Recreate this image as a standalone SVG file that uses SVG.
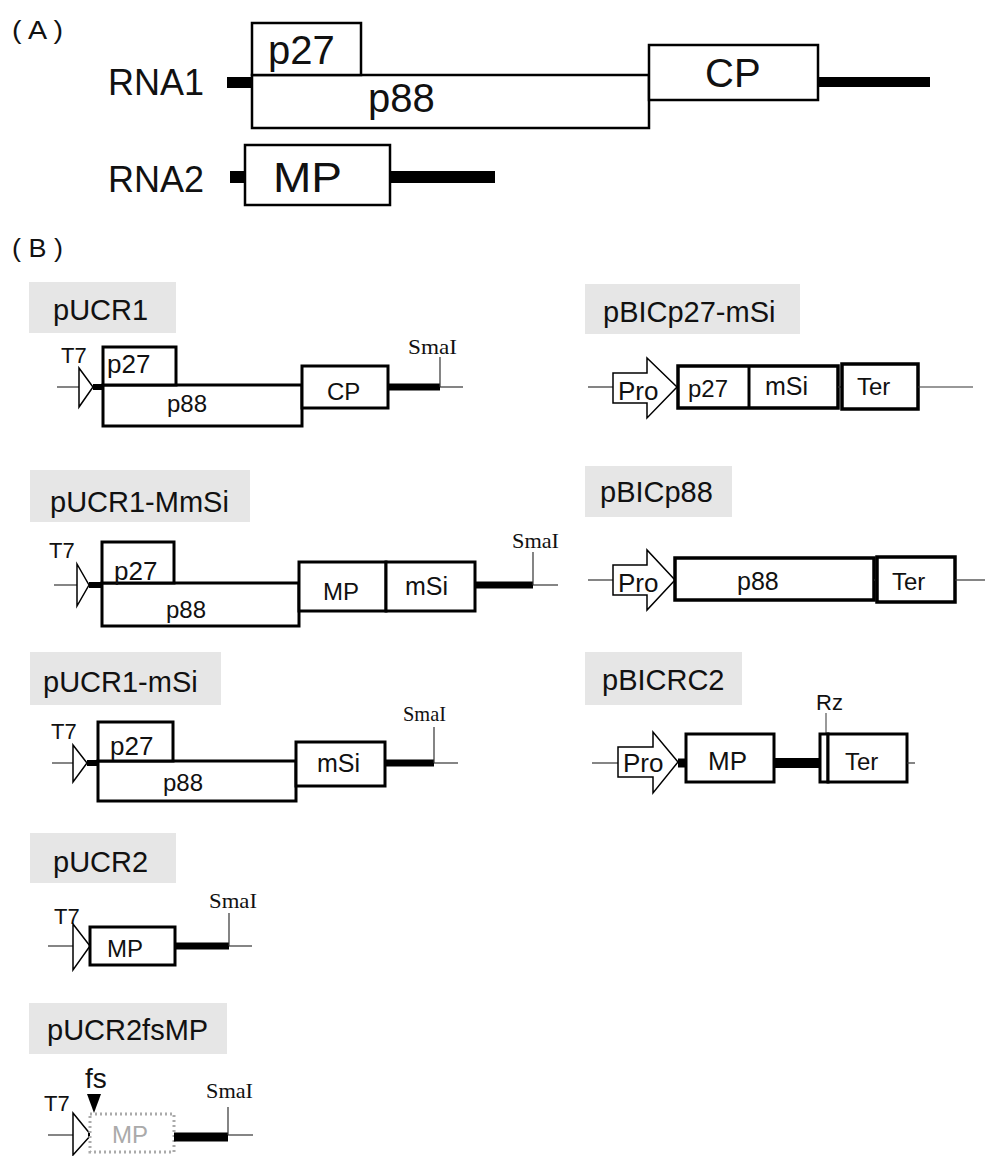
<svg xmlns="http://www.w3.org/2000/svg" width="985" height="1156" viewBox="0 0 985 1156">
<style>
.t{font-family:"Liberation Sans",Arial,sans-serif;fill:#111}
.s{font-family:"Liberation Serif","Times New Roman",serif;fill:#111;font-size:21px}
.bA{fill:#fff;stroke:#000;stroke-width:2.5}
.b{fill:#fff;stroke:#000;stroke-width:3}
.bP{fill:#fff;stroke:#000;stroke-width:3.5}
.thin{stroke:#333;stroke-width:1.2;fill:none}
.thk{stroke:#000;stroke-width:7;fill:none}
.lbl{fill:#e6e6e6}
.tri{fill:#fff;stroke:#000;stroke-width:1.5}
.name{font-size:29px}
.gl{font-size:24px}
.t7{font-size:22px}
</style>
<rect width="985" height="1156" fill="#fff"/>

<g id="panelA">
  <text class="t" x="12" y="39" font-size="26" textLength="51" lengthAdjust="spacingAndGlyphs">( A )</text>
  <g id="RNA1">
    <text class="t" x="108" y="95" font-size="36">RNA1</text>
    <rect x="227" y="77" width="25" height="11" fill="#000"/>
    <rect x="818" y="77" width="112" height="10" fill="#000"/>
    <rect class="bA" x="252" y="75" width="397" height="53"/>
    <rect class="bA" x="252" y="23" width="109" height="52"/>
    <rect class="bA" x="649" y="45" width="169" height="55"/>
    <text class="t" x="268" y="64" font-size="40">p27</text>
    <text class="t" x="368" y="112" font-size="40">p88</text>
    <text class="t" x="705" y="87" font-size="40">CP</text>
  </g>
  <g id="RNA2">
    <text class="t" x="108" y="192" font-size="36">RNA2</text>
    <rect x="230" y="171" width="15" height="12" fill="#000"/>
    <rect x="390" y="171" width="105" height="12" fill="#000"/>
    <rect class="bA" x="245" y="145" width="145" height="60"/>
    <text class="t" x="273" y="192" font-size="42" textLength="69" lengthAdjust="spacingAndGlyphs">MP</text>
  </g>
</g>

<text class="t" x="12" y="257" font-size="26" textLength="51" lengthAdjust="spacingAndGlyphs">( B )</text>

<g id="pUCR1">
  <rect class="lbl" x="29" y="282" width="147" height="51"/>
  <text class="t name" x="53" y="320">pUCR1</text>
  <text class="t t7" x="61" y="363">T7</text>
  <line class="thin" x1="57" y1="387" x2="79" y2="387"/>
  <polygon class="tri" points="79,368 93,387 79,407"/>
  <line x1="93" y1="387" x2="103" y2="387" stroke="#000" stroke-width="6"/>
  <rect class="b" x="103" y="385" width="199" height="41"/>
  <rect class="b" x="103" y="347" width="73" height="38"/>
  <rect class="b" x="302" y="366" width="86" height="42"/>
  <line class="thk" x1="388" y1="387" x2="440" y2="387"/>
  <line class="thin" x1="440" y1="357" x2="440" y2="387"/>
  <line class="thin" x1="440" y1="387" x2="463" y2="387"/>
  <text class="s" x="408" y="354" textLength="49" lengthAdjust="spacingAndGlyphs">SmaI</text>
  <text class="t" x="107" y="373" font-size="26">p27</text>
  <text class="t gl" x="167" y="412">p88</text>
  <text class="t gl" x="327" y="400">CP</text>
</g>

<g id="pBICp27-mSi">
  <rect class="lbl" x="585" y="284" width="215" height="50"/>
  <text class="t name" x="603" y="322">pBICp27-mSi</text>
  <line class="thin" x1="588" y1="387" x2="613" y2="387"/>
  <polygon class="tri" points="613,373 647,373 647,358 677,387 647,418 647,403 613,403"/>
  <text class="t" x="618" y="400" font-size="26">Pro</text>
  <rect class="bP" x="678" y="366" width="160" height="42"/>
  <line x1="749" y1="366" x2="749" y2="408" stroke="#000" stroke-width="3"/>
  <text class="t gl" x="688" y="397">p27</text>
  <text class="t" x="765" y="395" font-size="25">mSi</text>
  <line class="thin" x1="838" y1="387" x2="842" y2="387"/>
  <rect class="bP" x="842" y="364" width="76" height="45"/>
  <text class="t gl" x="857" y="395">Ter</text>
  <line class="thin" x1="918" y1="387" x2="973" y2="387"/>
</g>

<g id="pUCR1-MmSi">
  <rect class="lbl" x="30" y="470" width="220" height="52"/>
  <text class="t name" x="50" y="512">pUCR1-MmSi</text>
  <text class="t t7" x="49" y="558">T7</text>
  <line class="thin" x1="54" y1="585" x2="77" y2="585"/>
  <polygon class="tri" points="77,564 89,585 77,606"/>
  <line x1="89" y1="585" x2="102" y2="585" stroke="#000" stroke-width="6"/>
  <rect class="b" x="102" y="583" width="197" height="43"/>
  <rect class="b" x="102" y="542" width="72" height="41"/>
  <rect class="b" x="299" y="562" width="87" height="49"/>
  <rect class="b" x="386" y="562" width="89" height="49"/>
  <text class="t" x="114" y="580" font-size="26">p27</text>
  <text class="t gl" x="166" y="618">p88</text>
  <text class="t gl" x="323" y="600">MP</text>
  <text class="t" x="405" y="595" font-size="25">mSi</text>
  <line class="thk" x1="475" y1="585" x2="533" y2="585"/>
  <line class="thin" x1="533" y1="552" x2="533" y2="585"/>
  <line class="thin" x1="533" y1="585" x2="558" y2="585"/>
  <text class="s" x="512" y="548" textLength="47" lengthAdjust="spacingAndGlyphs">SmaI</text>
</g>

<g id="pBICp88">
  <rect class="lbl" x="585" y="466" width="147" height="51"/>
  <text class="t name" x="600" y="502">pBICp88</text>
  <line class="thin" x1="588" y1="580" x2="613" y2="580"/>
  <polygon class="tri" points="613,565 647,565 647,550 675,580 647,610 647,595 613,595"/>
  <text class="t" x="618" y="592" font-size="26">Pro</text>
  <rect class="bP" x="675" y="558" width="199" height="42"/>
  <text class="t" x="737" y="590" font-size="25">p88</text>
  <line class="thin" x1="874" y1="580" x2="877" y2="580"/>
  <rect class="bP" x="877" y="557" width="78" height="45"/>
  <text class="t gl" x="892" y="590">Ter</text>
  <line class="thin" x1="955" y1="580" x2="985" y2="580"/>
</g>

<g id="pUCR1-mSi">
  <rect class="lbl" x="30" y="652" width="191" height="53"/>
  <text class="t name" x="43" y="692">pUCR1-mSi</text>
  <text class="t t7" x="51" y="739">T7</text>
  <line class="thin" x1="52" y1="763" x2="73" y2="763"/>
  <polygon class="tri" points="73,745 87,763 73,782"/>
  <line x1="87" y1="763" x2="98" y2="763" stroke="#000" stroke-width="6"/>
  <rect class="b" x="98" y="761" width="198" height="40"/>
  <rect class="b" x="98" y="722" width="75" height="39"/>
  <rect class="b" x="296" y="742" width="89" height="44"/>
  <text class="t" x="110" y="755" font-size="26">p27</text>
  <text class="t gl" x="163" y="791">p88</text>
  <text class="t" x="317" y="772" font-size="25">mSi</text>
  <line class="thk" x1="385" y1="763" x2="434" y2="763"/>
  <line class="thin" x1="434" y1="727" x2="434" y2="763"/>
  <line class="thin" x1="434" y1="763" x2="458" y2="763"/>
  <text class="s" x="403" y="721" textLength="43" lengthAdjust="spacingAndGlyphs">SmaI</text>
</g>

<g id="pBICRC2">
  <rect class="lbl" x="585" y="652" width="157" height="53"/>
  <text class="t name" x="602" y="690">pBICRC2</text>
  <text class="t" x="816" y="710" font-size="22">Rz</text>
  <line x1="826" y1="713" x2="826" y2="745" stroke="#555" stroke-width="1.2"/>
  <line class="thin" x1="592" y1="763" x2="618" y2="763"/>
  <polygon class="tri" points="618,747 653,747 653,732 678,762 653,793 653,777 618,777"/>
  <text class="t" x="623" y="772" font-size="26">Pro</text>
  <line x1="678" y1="763" x2="687" y2="763" stroke="#000" stroke-width="9"/>
  <rect class="b" x="686" y="734" width="88" height="48"/>
  <text class="t" x="708" y="770" font-size="26">MP</text>
  <line x1="774" y1="763" x2="820" y2="763" stroke="#000" stroke-width="10"/>
  <rect class="b" x="820" y="734" width="8" height="48" stroke-width="2"/>
  <rect class="b" x="828" y="734" width="79" height="48"/>
  <text class="t gl" x="845" y="770">Ter</text>
  <line class="thin" x1="907" y1="763" x2="915" y2="763"/>
</g>

<g id="pUCR2">
  <rect class="lbl" x="30" y="833" width="146" height="50"/>
  <text class="t name" x="53" y="872">pUCR2</text>
  <text class="t t7" x="54" y="924">T7</text>
  <line class="thin" x1="48" y1="946" x2="73" y2="946"/>
  <polygon class="tri" points="73,924 90,946 73,970"/>
  <rect class="b" x="90" y="927" width="85" height="38"/>
  <text class="t gl" x="107" y="957">MP</text>
  <line class="thk" x1="175" y1="946" x2="229" y2="946"/>
  <line class="thin" x1="229" y1="913" x2="229" y2="946"/>
  <line class="thin" x1="229" y1="946" x2="252" y2="946"/>
  <text class="s" x="209" y="908" textLength="48" lengthAdjust="spacingAndGlyphs">SmaI</text>
</g>

<g id="pUCR2fsMP">
  <rect class="lbl" x="29" y="1003" width="198" height="51"/>
  <text class="t name" x="47" y="1040">pUCR2fsMP</text>
  <text class="t" x="85" y="1088" font-size="28">fs</text>
  <polygon points="87,1094 101,1094 94,1113" fill="#000"/>
  <text class="t t7" x="44" y="1111">T7</text>
  <line class="thin" x1="48" y1="1135" x2="73" y2="1135"/>
  <polygon class="tri" points="73,1113 91,1135 73,1155"/>
  <rect x="88" y="1132" width="4" height="6" fill="#000"/>
  <rect x="90" y="1114" width="84" height="38" fill="#fff" stroke="#aaa" stroke-width="3" stroke-dasharray="2,3"/>
  <text class="t gl" x="112" y="1143" style="fill:#aaa">MP</text>
  <line x1="174" y1="1137" x2="228" y2="1137" stroke="#000" stroke-width="9"/>
  <line class="thin" x1="228" y1="1107" x2="228" y2="1135"/>
  <line class="thin" x1="228" y1="1135" x2="253" y2="1135"/>
  <text class="s" x="206" y="1098" textLength="47" lengthAdjust="spacingAndGlyphs">SmaI</text>
</g>
</svg>
